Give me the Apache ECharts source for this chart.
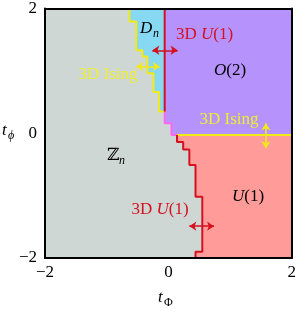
<!DOCTYPE html>
<html><head><meta charset="utf-8">
<script src="https://cdn.jsdelivr.net/npm/echarts@6/dist/echarts.min.js"></script>
<style>html,body{margin:0;padding:0;background:#fff}#c{width:299px;height:309px}</style>
</head><body><div id="c"></div>
<script>
// axis ticks
const xTicks = [-2, 0, 2];
const yTicks = [-2, 0, 2];
// phase boundaries (t_Phi, t_phi)
const isingDn = [[-0.63,2],[-0.63,1.79],[-0.52,1.79],[-0.52,1.33],[-0.42,1.33],[-0.42,1.23],[-0.34,1.23],[-0.34,0.96],[-0.24,0.96],[-0.24,0.66],[-0.15,0.66],[-0.15,0.35],[-0.06,0.35]];
const u1Vertical = [[-0.06,2],[-0.06,0.35]];
const pinkStep = [[-0.06,0.35],[-0.06,0.16],[0.05,0.16],[0.05,-0.03],[0.14,-0.03]];
const isingO2 = [[0.14,-0.03],[2,-0.03]];
const u1Zn = [[0.14,-0.03],[0.14,-0.14],[0.24,-0.14],[0.24,-0.26],[0.34,-0.26],[0.34,-0.51],[0.44,-0.51],[0.44,-1.02],[0.55,-1.02],[0.55,-1.90],[0.44,-1.90],[0.44,-2]];
// arrows
const arrowU1Top = [[-0.26,1.33],[0.15,1.33]];
const arrowIsingLeft = [[-0.52,1.07],[-0.14,1.07]];
const arrowIsingRight = [[1.58,0.16],[1.58,-0.24]];
const arrowU1Bottom = [[0.34,-1.49],[0.74,-1.49]];

const C = {grey:'#cfd7d5', cyan:'#86d8f3', purple:'#b692fc', salmon:'#ff9c99', red:'#d5101f', yellow:'#f2ea17', pink:'#ff66ee', ytext:'#eeee30'};
const FF = '"Liberation Serif","DejaVu Serif",serif';

const dnPoly = isingDn.concat([[-0.06,2]]);
const o2Poly = [[-0.06,2]].concat(pinkStep, [[2,-0.03],[2,2]]);
const u1Poly = u1Zn.concat([[2,-2],[2,-0.03]]);

function polySeries(points, color){
  return {type:'custom', coordinateSystem:'cartesian2d', z:1, silent:true, data:[[0,0]],
    renderItem:(p, api)=>({type:'polygon', shape:{points: points.map(q=>api.coord(q))}, style:{fill:color}})};
}
function lineSeries(points, color, arrows){
  const s = {type:'line', data:points, symbol:'none', showSymbol:false, z:3, silent:true, animation:false,
    lineStyle:{color:color, width:2}};
  if (arrows) {
    s.markLine = {silent:true, animation:false, symbol:['arrow','arrow'], symbolSize:7,
      lineStyle:{color:color, width:1.5, type:'solid'}, label:{show:false},
      data: arrows.map(a=>[{coord:a[0]},{coord:a[1]}])};
  }
  return s;
}
const minus = v => String(v).replace('-', '\u2212');
const axisCommon = {min:-2, max:2, interval:2, z:5, splitLine:{show:false}, axisTick:{show:false},
  axisLine:{show:true, onZero:false, lineStyle:{color:'#000', width:2}}};

const chart = echarts.init(document.getElementById('c'), null, {renderer:'canvas'});
function txt(x,y,text,opt){
  return Object.assign({type:'text', x:x, y:y, z:20, silent:true,
    style:Object.assign({text:text, font:'17px '+FF, fill:'#000', align:'left', verticalAlign:'middle'}, opt||{})});
}
const rich = color => ({r:{fontFamily:FF, fontSize:17, fill:color, color:color}, i:{fontFamily:FF, fontSize:17, fontStyle:'italic', fill:color, color:color}});

chart.setOption({
  animation:false,
  grid:{left:45, right:6, top:8, bottom:51, show:true, backgroundColor:C.grey, borderWidth:0},
  xAxis:[Object.assign({type:'value', position:'bottom', axisLabel:{fontFamily:FF, fontSize:17, color:'#000', margin:6, formatter:minus, customValues:xTicks}}, axisCommon),
         Object.assign({type:'value', position:'top', axisLabel:{show:false}}, axisCommon)],
  yAxis:[Object.assign({type:'value', position:'left', axisLabel:{fontFamily:FF, fontSize:17, color:'#000', margin:8, formatter:minus, customValues:yTicks}}, axisCommon),
         Object.assign({type:'value', position:'right', axisLabel:{show:false}}, axisCommon)],
  series:[
    polySeries(dnPoly, C.cyan),
    polySeries(o2Poly, C.purple),
    polySeries(u1Poly, C.salmon),
    lineSeries(isingDn, C.yellow, [arrowIsingLeft]),
    lineSeries(isingO2, C.yellow, [arrowIsingRight]),
    lineSeries(pinkStep, C.pink),
    lineSeries(u1Vertical, C.red, [arrowU1Top]),
    lineSeries(u1Zn, C.red, [arrowU1Bottom])
  ],
  graphic:[
    txt(140,29,'D',{font:'italic 17px '+FF}),
    txt(153,34,'n',{font:'italic 12px '+FF}),
    txt(176,35,'{r|3D }{i|U}{r|(1)}',{rich:rich(C.red), fill:C.red}),
    txt(230,71,'{i|O}{r|(2)}',{rich:rich('#000'), align:'center'}),
    txt(108,75,'3D Ising',{fill:C.ytext, align:'center'}),
    txt(229,120,'3D Ising',{fill:C.ytext, align:'center'}),
    txt(107,156,'\u2124',{font:'17px "DejaVu Serif",serif'}),
    txt(119,161,'n',{font:'italic 12px '+FF}),
    txt(248,197,'{i|U}{r|(1)}',{rich:rich('#000'), align:'center'}),
    txt(160,210,'{r|3D }{i|U}{r|(1)}',{rich:rich(C.red), fill:C.red, align:'center'}),
    txt(2,131,'t',{font:'italic 17px '+FF}),
    txt(8,136,'\u03d5',{font:'italic 12px '+FF}),
    txt(158,298,'t',{font:'italic 17px '+FF}),
    txt(164,303,'\u03a6',{font:'12px '+FF})
  ]
});
</script></body></html>
